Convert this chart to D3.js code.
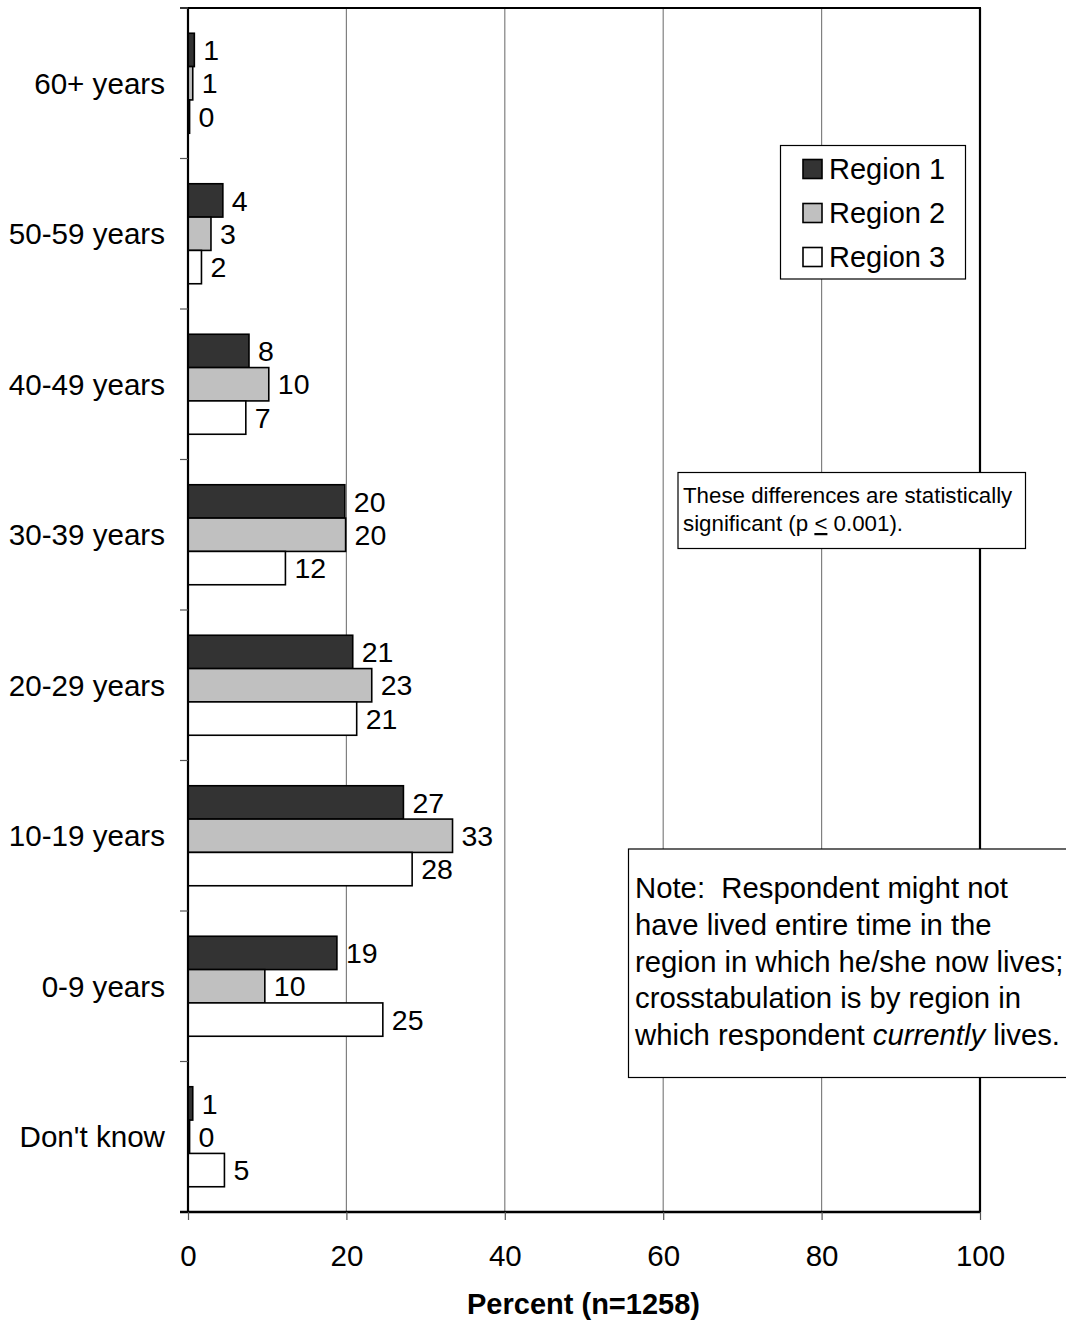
<!DOCTYPE html>
<html><head><meta charset="utf-8">
<script src="https://cdn.jsdelivr.net/npm/d3@7"></script>
<style>
html,body{margin:0;padding:0;background:#fff;}
text{font-family:"Liberation Sans",Arial,sans-serif;fill:#000;}
</style></head>
<body>
<svg id="chart" width="1066" height="1323"></svg>
<script>
const categories = ["60+ years","50-59 years","40-49 years","30-39 years","20-29 years","10-19 years","0-9 years","Don't know"];
const seriesNames = ["Region 1","Region 2","Region 3"];
const region1 = [0.8, 4.4, 7.7, 19.8, 20.8, 27.2, 18.8, 0.6];
const region2 = [0.6, 2.9, 10.2, 19.9, 23.2, 33.4, 9.7, 0.2];
const region3 = [0.2, 1.7, 7.3, 12.3, 21.3, 28.3, 24.6, 4.6];
const xTicks = [0, 20, 40, 60, 80, 100];
const seriesColors = ["#333333", "#c0c0c0", "#ffffff"];
const xTitle = "Percent (n=1258)";

const series = [region1, region2, region3];
const svg = d3.select("#chart");
const L = 188, R = 980, T = 8, B = 1212;

const x = d3.scaleLinear().domain([0, 100]).range([L, R]);
const y0 = d3.scaleBand().domain(categories).range([T, B]).paddingInner(0.3355).paddingOuter(0.3355/2);
const y1 = d3.scaleBand().domain(seriesNames).range([0, y0.bandwidth()]);

// gridlines
svg.append("g").selectAll("line").data(xTicks.filter(d => d > 0 && d < 100)).join("line")
  .attr("x1", d => x(d)).attr("x2", d => x(d)).attr("y1", T).attr("y2", B)
  .attr("stroke", "#808080").attr("stroke-width", 1.2);

// plot border top & right
svg.append("line").attr("x1", L - 8).attr("x2", R + 1).attr("y1", T).attr("y2", T).attr("stroke", "#000").attr("stroke-width", 2);
svg.append("line").attr("x1", R).attr("x2", R).attr("y1", T).attr("y2", B).attr("stroke", "#000").attr("stroke-width", 2.2);

// bars
const groups = svg.append("g").selectAll("g").data(categories).join("g")
  .attr("transform", c => `translate(0,${y0(c)})`);
groups.each(function(c, i) {
  const g = d3.select(this);
  const rows = seriesNames.map((s, k) => ({s, k, v: series[k][i]}));
  g.selectAll("rect").data(rows).join("rect")
    .attr("x", x(0)).attr("y", d => y1(d.s))
    .attr("width", d => x(d.v) - x(0)).attr("height", y1.bandwidth())
    .attr("fill", d => seriesColors[d.k]).attr("stroke", "#000").attr("stroke-width", 1.6);
  g.selectAll("text").data(rows).join("text")
    .attr("x", d => x(d.v) + 9).attr("y", d => y1(d.s) + y1.bandwidth() / 2)
    .attr("dy", "0.36em").attr("font-size", 28.5)
    .text(d => d3.format(".0f")(d.v));
});

// y axis
const yAxisG = svg.append("g").attr("transform", `translate(${L},0)`);
yAxisG.append("line").attr("x1", 0).attr("x2", 0).attr("y1", T).attr("y2", B).attr("stroke", "#000").attr("stroke-width", 2.2);
const boundaries = categories.map(c => y0(c) - y0.step() * y0.paddingOuter()).concat([B]);
yAxisG.selectAll("line.tick").data(boundaries).join("line").attr("class", "tick")
  .attr("x1", -8).attr("x2", 0).attr("y1", d => d).attr("y2", d => d)
  .attr("stroke", "#555").attr("stroke-width", 1.2);
yAxisG.selectAll("text").data(categories).join("text")
  .attr("x", -23).attr("y", c => y0(c) + y0.bandwidth() / 2).attr("dy", "0.36em")
  .attr("text-anchor", "end").attr("font-size", 29.6).text(c => c);

// x axis
const xAxis = d3.axisBottom(x).tickValues(xTicks).tickSize(8).tickPadding(25).tickFormat(d3.format("d"));
const xg = svg.append("g").attr("transform", `translate(0,${B})`).call(xAxis);
xg.select(".domain").attr("stroke", "#000").attr("stroke-width", 2.4).attr("d", `M${L - 8},0H${R + 1}`);
xg.selectAll(".tick line").attr("stroke", "#555").attr("stroke-width", 1.2);
xg.selectAll(".tick text").attr("font-size", 29.5).attr("font-family", "Liberation Sans, Arial, sans-serif").attr("fill", "#000");

svg.append("text").attr("x", (L + R) / 2 - 0.5).attr("y", 1314).attr("text-anchor", "middle")
  .attr("font-size", 29).attr("font-weight", "bold").text(xTitle);

// legend
const lg = svg.append("g");
lg.append("rect").attr("x", 780.5).attr("y", 145.5).attr("width", 185).attr("height", 133.5)
  .attr("fill", "#fff").attr("stroke", "#000").attr("stroke-width", 1.2);
seriesNames.forEach((s, k) => {
  const cy = 169 + k * 44;
  lg.append("rect").attr("x", 803).attr("y", cy - 9.5).attr("width", 19).attr("height", 19)
    .attr("fill", seriesColors[k]).attr("stroke", "#000").attr("stroke-width", 1.6);
  lg.append("text").attr("x", 829).attr("y", cy).attr("dy", "0.36em").attr("font-size", 29).text(s);
});

// significance box
const sg = svg.append("g");
sg.append("rect").attr("x", 678).attr("y", 472.5).attr("width", 347.5).attr("height", 76)
  .attr("fill", "#fff").attr("stroke", "#000").attr("stroke-width", 1.2);
sg.append("text").attr("x", 683).attr("y", 503).attr("font-size", 22.3).text("These differences are statistically");
const t2 = sg.append("text").attr("x", 683).attr("y", 531).attr("font-size", 22.3);
t2.append("tspan").text("significant (p ");
t2.append("tspan").attr("text-decoration", "underline").text("<");
t2.append("tspan").text(" 0.001).");

// note box
const ng = svg.append("g");
ng.append("rect").attr("x", 628.5).attr("y", 849).attr("width", 450).attr("height", 228.5)
  .attr("fill", "#fff").attr("stroke", "#000").attr("stroke-width", 1.2);
const noteLines = [
  [["Note:  Respondent might not", false]],
  [["have lived entire time in the", false]],
  [["region in which he/she now lives;", false]],
  [["crosstabulation is by region in", false]],
  [["which respondent ", false], ["currently", true], [" lives.", false]]
];
noteLines.forEach((parts, i) => {
  const t = ng.append("text").attr("x", 635).attr("y", 898 + i * 36.8).attr("font-size", 29.3).attr("xml:space", "preserve");
  parts.forEach(([str, it]) => {
    const ts = t.append("tspan").text(str);
    if (it) ts.attr("font-style", "italic");
  });
});
</script>
</body></html>
